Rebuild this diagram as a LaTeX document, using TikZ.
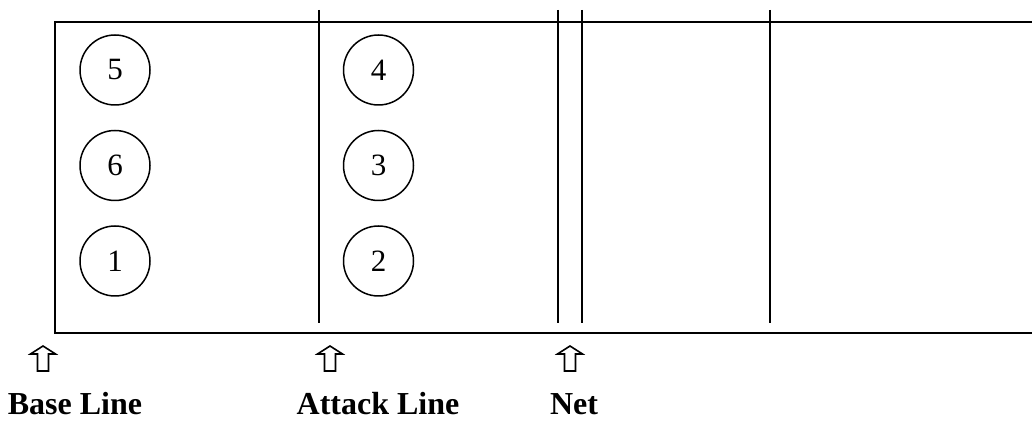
\documentclass[tikz,border=0pt]{standalone}
\usepackage{fontspec}
\setmainfont{Liberation Serif}
\usetikzlibrary{positioning}

\tikzset{
  player/.style={circle,draw,line width=0.75pt,minimum size=35pt,inner sep=0pt,font=\fontsize{15.5}{18}\selectfont},
  courtline/.style={line width=0.75pt},
  marklabel/.style={anchor=base,inner sep=0pt,font=\fontsize{16}{19}\selectfont\bfseries},
  hollowup/.pic={
    \draw[line width=0.8pt] (0,0) -- (12.5,8) -- (5.5,8) -- (5.5,25) -- (-5.5,25) -- (-5.5,8) -- (-12.5,8) -- cycle;
  }
}

\begin{document}
\begin{tikzpicture}[x=0.5pt,y=-0.5pt]
    \useasboundingbox (0,0) rectangle (1032,421);

    % court outline, open on the right
    \draw[courtline] (1032,22) -- (55,22) -- (55,333) -- (1032,333);
    \draw[courtline] (319,10) -- (319,323);
    \draw[courtline] (558,10) -- (558,323);
    \draw[courtline] (582,10) -- (582,323);
    \draw[courtline] (770,10) -- (770,323);

    % players
    \node[player] (5) at (115,70) {5};
    \node[player] (6) [below=12pt of 5] {6};
    \node[player] (1) [below=12pt of 6] {1};
    \node[player] (4) [right=96pt of 5] {4};
    \node[player] (3) [below=12pt of 4] {3};
    \node[player] (2) [below=12pt of 3] {2};

    % markers
    \pic at (43,346) {hollowup};
    \pic at (330,346) {hollowup};
    \pic at (570,346) {hollowup};

    \node[marklabel] (base) at (75,415) {Base Line};
    \node[marklabel] (attack) at (378,415) {Attack Line};
    \node[marklabel] (net) at (574,415) {Net};
  \end{tikzpicture}
\end{document}
